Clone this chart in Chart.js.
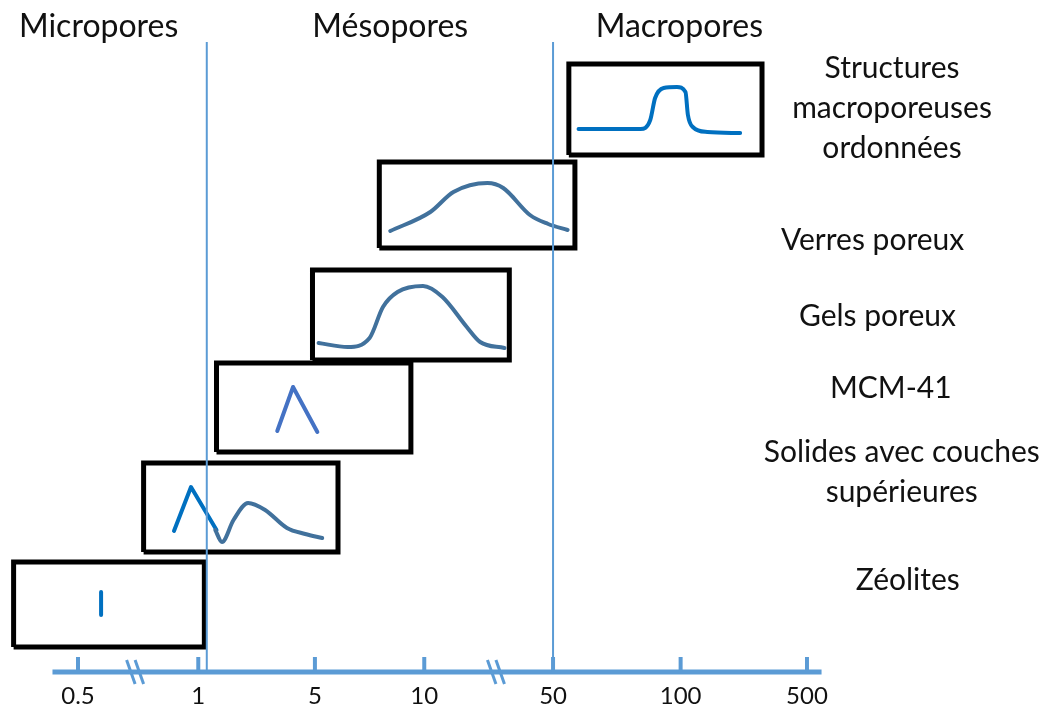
<!DOCTYPE html>
<html>
<head>
<meta charset="utf-8">
<script src="https://cdn.jsdelivr.net/npm/chart.js"></script>
<style>
  body { margin: 0; background: #fff; }
  #wrap { width: 1053px; height: 709px; }
</style>
</head>
<body>
<div id="wrap"><canvas id="poreChart" width="1053" height="709"></canvas></div>
<script>
// pore size axis (nm), ticks placed on a broken, roughly even axis
const tickLabels = ['0.5', '1', '5', '10', '50', '100', '500'];
const tickPos = [0, 0.99, 1.95, 2.85, 3.91, 4.96, 6.0];
const breakPos = [0.47, 3.44];
const limitPos = [1.06, 3.91];   // micro / meso, meso / macro
const regionNames = ['Micropores', 'Mésopores', 'Macropores'];

// materials, bottom to top, with their range box [x0, x1, y0, y1]
const materials = [
  ['Zéolites'],
  ['Solides avec couches', 'supérieures'],
  ['MCM-41'],
  ['Gels poreux'],
  ['Verres poreux'],
  ['Structures', 'macroporeuses', 'ordonnées']
];
const boxes = [
  [-0.53, 1.04, 0.25, 1.10],
  [0.54, 2.14, 1.20, 2.09],
  [1.14, 2.74, 2.20, 3.09],
  [1.93, 3.55, 3.12, 4.02],
  [2.48, 4.09, 4.24, 5.10],
  [4.04, 5.63, 5.17, 6.08]
];

// pore size distributions sketched in each box
const zeoliteDist = [[0.19, 0.57], [0.19, 0.80]];
const layeredPeak = [[0.79, 1.41], [0.93, 1.85], [1.14, 1.42]];
const layeredDist = [[1.13, 1.42], [1.185, 1.30], [1.28, 1.52], [1.40, 1.69], [1.54, 1.62], [1.72, 1.44], [1.87, 1.38], [2.01, 1.34]];
const mcmDist = [[1.64, 2.41], [1.77, 2.85], [1.97, 2.40]];
const gelDist = [[1.98, 3.29], [2.22, 3.25], [2.40, 3.34], [2.51, 3.65], [2.63, 3.80], [2.84, 3.86], [3.00, 3.75], [3.20, 3.45], [3.31, 3.30], [3.51, 3.24]];
const glassDist = [[2.57, 4.41], [2.90, 4.60], [3.09, 4.80], [3.37, 4.89], [3.50, 4.84], [3.72, 4.57], [3.87, 4.48], [4.03, 4.42]];
const orderedDist = [[4.12, 5.43], [4.63, 5.43], [4.71, 5.52], [4.75, 5.74], [4.82, 5.84], [4.93, 5.85], [5.00, 5.80], [5.02, 5.57], [5.06, 5.45], [5.18, 5.40], [5.45, 5.39]];

const BLUE = '#0070c0';
const STEEL = '#41719c';
const AXIS = '#5b9bd5';
const FONT = 'Lato, "Open Sans", sans-serif';

function pts(arr) { return arr.map(p => ({x: p[0], y: p[1]})); }

function boxData(b) {
  return [{x: b[0], y: b[2]}, {x: b[1], y: b[2]}, {x: b[1], y: b[3]}, {x: b[0], y: b[3]}, {x: b[0], y: b[2]}];
}

function curve(arr, color, smooth) {
  return {
    data: pts(arr),
    borderColor: color,
    borderWidth: 4,
    borderCapStyle: 'round',
    borderJoinStyle: 'round',
    showLine: true,
    pointRadius: 0,
    tension: smooth ? 0.4 : 0,
    cubicInterpolationMode: smooth ? 'monotone' : 'default'
  };
}

const datasets = boxes.map(b => ({
  data: boxData(b),
  borderColor: '#000',
  borderWidth: 5,
  borderJoinStyle: 'miter',
  showLine: true,
  pointRadius: 0,
  tension: 0
}));
datasets.push(curve(zeoliteDist, BLUE, false));
datasets.push(curve(layeredDist, STEEL, true));
datasets.push(curve(layeredPeak, BLUE, false));
datasets.push(curve(mcmDist, '#4472c4', false));
datasets.push(curve(gelDist, STEEL, true));
datasets.push(curve(glassDist, STEEL, true));
datasets.push(curve(orderedDist, BLUE, true));

// where the texts sit (axis units)
const regionX = [0.17, 2.57, 4.95];
const labelX = [6.83, 6.78, 6.69, 6.58, 6.54, 6.70];
const labelY = [[0.92], [2.20, 1.80], [2.84], [3.56], [4.32], [6.04, 5.64, 5.24]];

const decor = {
  id: 'decor',
  afterDatasetsDraw(chart) {
    const ctx = chart.ctx;
    const xs = chart.scales.x, ys = chart.scales.y;
    const X = v => xs.getPixelForValue(v), Y = v => ys.getPixelForValue(v);
    ctx.save();
    // limits between pore classes
    ctx.strokeStyle = AXIS;
    ctx.lineWidth = 2;
    limitPos.forEach(p => {
      ctx.beginPath();
      ctx.moveTo(X(p), Y(6.30));
      ctx.lineTo(X(p), Y(0));
      ctx.stroke();
    });
    // axis line + ticks
    ctx.lineWidth = 5;
    ctx.beginPath();
    ctx.moveTo(X(-0.21), Y(0));
    ctx.lineTo(X(6.12), Y(0));
    ctx.stroke();
    ctx.lineWidth = 4;
    tickPos.forEach(p => {
      ctx.beginPath();
      ctx.moveTo(X(p), Y(0));
      ctx.lineTo(X(p), Y(0.15));
      ctx.stroke();
    });
    // axis breaks
    ctx.lineWidth = 3;
    breakPos.forEach(p => {
      [-0.035, 0.035].forEach(d => {
        ctx.beginPath();
        ctx.moveTo(X(p + d - 0.035), Y(0.12));
        ctx.lineTo(X(p + d + 0.035), Y(-0.12));
        ctx.stroke();
      });
    });
    // texts
    ctx.fillStyle = '#111';
    ctx.textAlign = 'center';
    ctx.textBaseline = 'middle';
    ctx.font = '24px ' + FONT;
    tickLabels.forEach((t, i) => ctx.fillText(t, X(tickPos[i]), Y(-0.24)));
    ctx.font = '32px ' + FONT;
    regionNames.forEach((t, i) => ctx.fillText(t, X(regionX[i]), Y(6.45)));
    ctx.font = '30px ' + FONT;
    materials.forEach((lines, i) => {
      lines.forEach((t, j) => ctx.fillText(t, X(labelX[i]), Y(labelY[i][j])));
    });
    ctx.restore();
  }
};

new Chart(document.getElementById('poreChart').getContext('2d'), {
  type: 'scatter',
  data: { datasets: datasets },
  options: {
    responsive: false,
    animation: false,
    devicePixelRatio: 1,
    layout: { padding: 0 },
    plugins: { legend: { display: false }, tooltip: { enabled: false } },
    scales: {
      x: { type: 'linear', display: false, min: -0.642, max: 8.025 },
      y: { type: 'linear', display: false, min: -0.37, max: 6.72 }
    }
  },
  plugins: [decor]
});
</script>
</body>
</html>
